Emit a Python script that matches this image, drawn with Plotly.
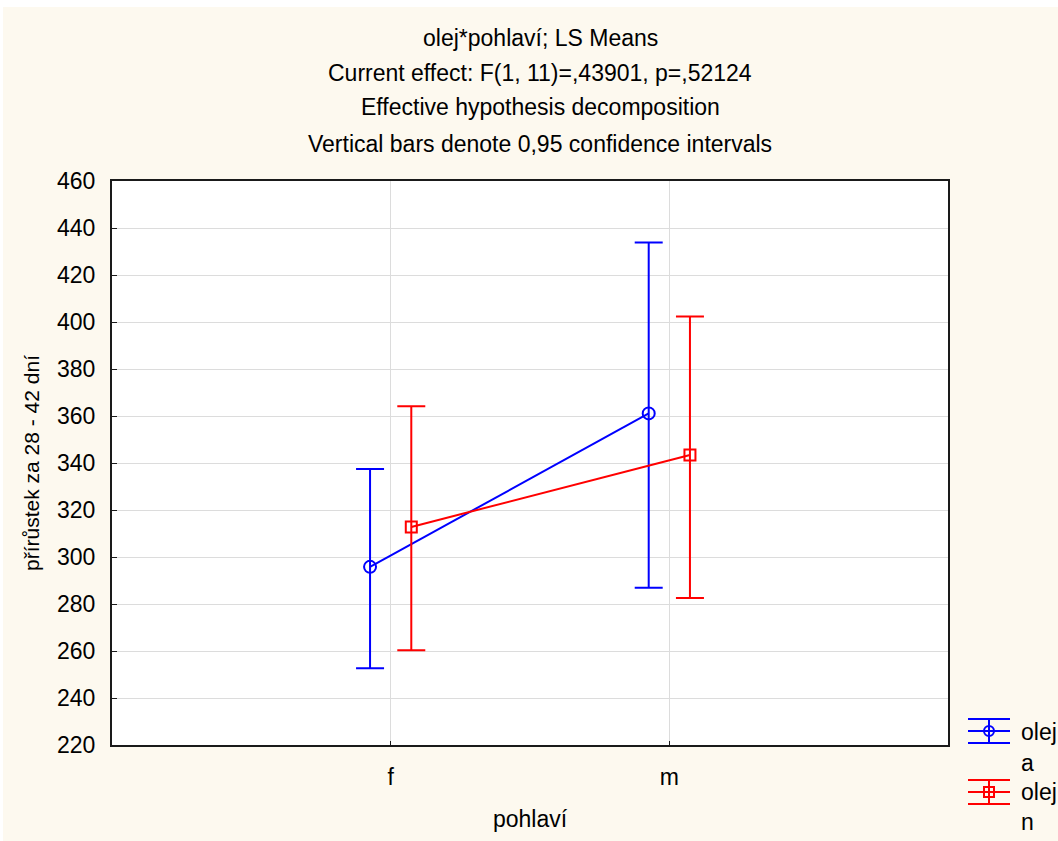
import plotly.graph_objects as go

# --- data -------------------------------------------------------------
categories = ["f", "m"]
groups = ["olej a", "olej n"]

mean_a = [295.8, 361.1]
lower_a = [252.7, 286.9]
upper_a = [337.5, 433.8]

mean_n = [312.8, 343.4]
lower_n = [260.3, 282.6]
upper_n = [364.2, 402.3]

y_ticks = [220, 240, 260, 280, 300, 320, 340, 360, 380, 400, 420, 440, 460]

title_lines = [
    "olej*pohlaví; LS Means",
    "Current effect: F(1, 11)=,43901, p=,52124",
    "Effective hypothesis decomposition",
    "Vertical bars denote 0,95 confidence intervals",
]

# --- layout geometry (pixels) -------------------------------------------
W, H = 1058, 841
M_L, M_R, M_T, M_B = 112, 110, 181, 96
PW = W - M_L - M_R
PH = H - M_T - M_B

BLUE = "#0000FF"
RED = "#FF0000"
CREAM = "#FDF9EF"
FONT = "Liberation Sans, Arial, sans-serif"
TXT = 23


def px_x(px):
    return (px - M_L) / PW


def px_y(py):
    return (H - M_B - py) / PH


x_pos = list(range(1, len(categories) + 1))
dodge = 0.074


def series(name, means, lows, highs, color, symbol, size, shift):
    return go.Scatter(
        x=[x + shift for x in x_pos],
        y=means,
        name=name,
        mode="lines+markers",
        line=dict(color=color, width=2),
        marker=dict(symbol=symbol, size=size, color=color,
                    line=dict(color=color, width=2)),
        error_y=dict(
            type="data",
            symmetric=False,
            array=[h - m for h, m in zip(highs, means)],
            arrayminus=[m - l for m, l in zip(means, lows)],
            color=color,
            thickness=2,
            width=14,
        ),
        showlegend=False,
        cliponaxis=False,
    )


fig = go.Figure()
fig.add_trace(series(groups[0], mean_a, lower_a, upper_a, BLUE,
                     "circle-open", 12, -dodge))
fig.add_trace(series(groups[1], mean_n, lower_n, upper_n, RED,
                     "square-open", 11, dodge))

annotations = []
title_y_px = [38, 73, 107, 144]
for text, py in zip(title_lines, title_y_px):
    annotations.append(dict(
        text=text, xref="paper", yref="paper",
        x=px_x(540), y=px_y(py), xanchor="center", yanchor="middle",
        showarrow=False, font=dict(size=TXT, color="#000000", family=FONT),
    ))

shapes = []
# thin white strip along the top and left edge of the panel
shapes.append(dict(type="rect", xref="paper", yref="paper", layer="below",
                   x0=px_x(0), x1=px_x(W), y0=px_y(7), y1=px_y(0),
                   fillcolor="#FFFFFF", line=dict(width=0)))
shapes.append(dict(type="rect", xref="paper", yref="paper", layer="below",
                   x0=px_x(0), x1=px_x(3), y0=px_y(H), y1=px_y(0),
                   fillcolor="#FFFFFF", line=dict(width=0)))

# custom legend: error-bar glyph with marker, then wrapped label
legend_items = [
    (groups[0], BLUE, "circle", 731, 732, 763),
    (groups[1], RED, "square", 792, 792, 822),
]
gx0, gx1, gxc = 968, 1010, 989
for name, color, sym, cy, ty1, ty2 in legend_items:
    for dy in (-12, 0, 12):
        shapes.append(dict(type="line", xref="paper", yref="paper",
                           x0=px_x(gx0), x1=px_x(gx1),
                           y0=px_y(cy + dy), y1=px_y(cy + dy),
                           line=dict(color=color, width=2)))
    shapes.append(dict(type="line", xref="paper", yref="paper",
                       x0=px_x(gxc), x1=px_x(gxc),
                       y0=px_y(cy - 12), y1=px_y(cy + 12),
                       line=dict(color=color, width=2)))
    r = 5
    shapes.append(dict(type="circle" if sym == "circle" else "rect",
                       xref="paper", yref="paper",
                       x0=px_x(gxc - r), x1=px_x(gxc + r),
                       y0=px_y(cy + r), y1=px_y(cy - r),
                       line=dict(color=color, width=2),
                       fillcolor="rgba(0,0,0,0)"))
    word, letter = name.split(" ")
    for txt, ty in ((word, ty1), (letter, ty2)):
        annotations.append(dict(
            text=txt, xref="paper", yref="paper",
            x=px_x(1019), y=px_y(ty), xanchor="left", yanchor="middle",
            showarrow=False, font=dict(size=TXT, color="#000000", family=FONT),
        ))

fig.update_layout(
    width=W, height=H,
    margin=dict(l=M_L, r=M_R, t=M_T, b=M_B, pad=0),
    paper_bgcolor=CREAM,
    plot_bgcolor="#FFFFFF",
    font=dict(family=FONT, size=TXT, color="#000000"),
    annotations=annotations,
    shapes=shapes,
    showlegend=False,
)

fig.update_xaxes(
    range=[0, len(categories) + 1],
    tickmode="array", tickvals=x_pos, ticktext=categories,
    showgrid=True, gridcolor="#DCDCDC", gridwidth=1,
    zeroline=False,
    showline=True, linecolor="#1A1A1A", linewidth=2, mirror=True,
    ticks="inside", ticklen=4, tickcolor="#1A1A1A",
    ticklabelstandoff=10,
    tickfont=dict(size=TXT),
    title=dict(text="pohlaví", font=dict(size=TXT), standoff=22),
)
fig.update_yaxes(
    range=[220, 460],
    tickmode="array", tickvals=y_ticks,
    showgrid=True, gridcolor="#DCDCDC", gridwidth=1,
    zeroline=False,
    showline=True, linecolor="#1A1A1A", linewidth=2, mirror=True,
    ticks="inside", ticklen=5, tickcolor="#1A1A1A",
    ticklabelstandoff=10,
    tickfont=dict(size=TXT),
    title=dict(text="přírůstek za 28 - 42 dní", font=dict(size=21), standoff=12),
)

fig.write_html("out.html")
